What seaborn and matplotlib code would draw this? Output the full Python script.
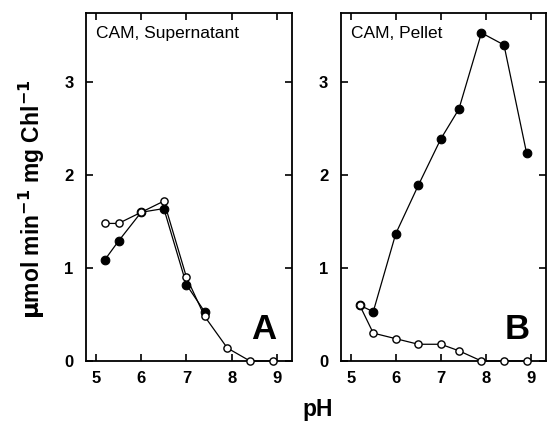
import matplotlib
matplotlib.use("Agg")
import matplotlib.pyplot as plt
import seaborn as sns
import pandas as pd

sns.set_theme(style="ticks")
plt.rcParams['font.family'] = ['Liberation Sans', 'DejaVu Sans']
plt.rcParams['text.color'] = 'black'

ph = [5.2, 5.5, 6.0, 6.5, 7.0, 7.4, 7.9, 8.4, 8.9]
sup_filled = [1.09, 1.29, 1.60, 1.64, 0.82, 0.53]
sup_open = [1.48, 1.48, 1.60, 1.72, 0.90, 0.48, 0.14, 0.0, 0.0]
pel_filled = [0.60, 0.53, 1.37, 1.89, 2.39, 2.71, 3.53, 3.40, 2.24]
pel_open = [0.60, 0.30, 0.24, 0.18, 0.18, 0.11, 0.0, 0.0, 0.0]
panel_titles = ["CAM, Supernatant", "CAM, Pellet"]
panel_letters = ["A", "B"]
xticks = [5, 6, 7, 8, 9]
yticks = [0, 1, 2, 3]

fig = plt.figure(figsize=(5.47, 4.25), dpi=100)
axA = fig.add_axes([0.157, 0.1506, 0.377, 0.818])
axB = fig.add_axes([0.623, 0.1506, 0.375, 0.818])

def draw(ax, filled, opened, title, letter):
    d1 = pd.DataFrame({"pH": ph[:len(filled)], "v": filled})
    d2 = pd.DataFrame({"pH": ph[:len(opened)], "v": opened})
    sns.lineplot(data=d1, x="pH", y="v", ax=ax, color="black", lw=0.9,
                 marker="o", markersize=6.2, markerfacecolor="black",
                 markeredgecolor="black", markeredgewidth=0.8, clip_on=False, zorder=3)
    sns.lineplot(data=d2, x="pH", y="v", ax=ax, color="black", lw=0.9,
                 marker="o", markersize=5.2, markerfacecolor="white",
                 markeredgecolor="black", markeredgewidth=1.0, clip_on=False, zorder=4)
    ax.set_xlim(4.78, 9.33)
    ax.set_ylim(0, 3.74)
    ax.set_xticks(xticks)
    ax.set_yticks(yticks)
    ax.set_xlabel("")
    ax.set_ylabel("")
    ax.tick_params(direction="in", top=True, right=True, length=5, width=1.2,
                   labelsize=12, color="black", labelcolor="black")
    ax.tick_params(axis="x", pad=7)
    ax.tick_params(axis="y", pad=9)
    for lab in ax.get_xticklabels() + ax.get_yticklabels():
        lab.set_fontweight("bold")
    for s in ax.spines.values():
        s.set_visible(True)
        s.set_linewidth(1.3)
        s.set_color("black")
    ax.text(0.05, 0.965, title, transform=ax.transAxes, ha="left", va="top",
            fontsize=12.5, color="black")
    ax.text(0.86, 0.09, letter, transform=ax.transAxes, ha="center", va="center",
            fontsize=25, fontweight="bold", color="black")

draw(axA, sup_filled, sup_open, panel_titles[0], panel_letters[0])
draw(axB, pel_filled, pel_open, panel_titles[1], panel_letters[1])

fig.text(0.058, 0.53, r"$\mathbf{\mu}$mol min$^{\mathbf{-1}}$ mg Chl$^{\mathbf{-1}}$",
         rotation=90, ha="center", va="center", fontsize=16.5, fontweight="bold",
         color="black")
fig.text(0.58, 0.036, "pH", ha="center", va="center", fontsize=16.5, fontweight="bold",
         color="black")

fig.savefig("out.png", dpi=100, facecolor="white")
